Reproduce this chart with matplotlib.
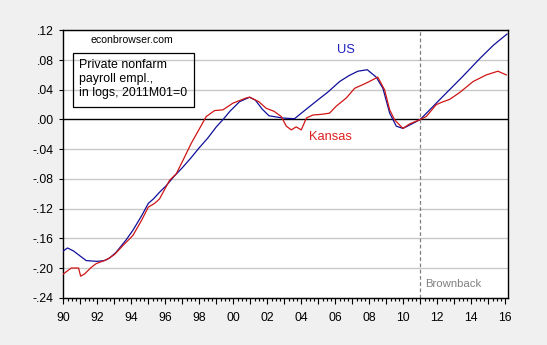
import numpy as np
import matplotlib
matplotlib.use("Agg")
import matplotlib.pyplot as plt
from matplotlib.patches import Rectangle
from matplotlib.ticker import FixedLocator, MultipleLocator

plt.rcParams['font.family'] = ['Liberation Sans', 'DejaVu Sans']

# private nonfarm payroll employment, logs, 2011M01 = 0
us_t = [1990.0, 1990.25, 1990.6, 1991.0, 1991.35, 1992.0, 1992.4, 1992.7, 1993.1,
        1993.7, 1994.1, 1994.6, 1995.0, 1995.3, 1995.66, 1996.06, 1996.5, 1997.0,
        1997.5, 1998.0, 1998.5, 1999.0, 1999.4, 1999.8, 2000.37, 2000.96, 2001.3,
        2001.7, 2002.1, 2002.9, 2003.6, 2004.3, 2004.9, 2005.57, 2006.25, 2006.8,
        2007.33, 2007.88, 2008.41, 2008.8, 2009.2, 2009.59, 2009.98, 2010.5, 2011.0,
        2012.24, 2013.5, 2014.5, 2015.3, 2016.1]
us = [-0.177, -0.173, -0.177, -0.184, -0.190, -0.191, -0.190, -0.187, -0.179,
      -0.162, -0.149, -0.130, -0.113, -0.107, -0.098, -0.089, -0.077, -0.065,
      -0.052, -0.038, -0.025, -0.010, 0.000, 0.011, 0.024, 0.030, 0.026,
      0.014, 0.005, 0.002, 0.001, 0.014, 0.025, 0.037, 0.051, 0.059,
      0.065, 0.067, 0.057, 0.042, 0.0085, -0.009, -0.012, -0.006, 0.0,
      0.029, 0.058, 0.082, 0.100, 0.115]

ks_t = [1990.0, 1990.47, 1990.9, 1991.02, 1991.25, 1991.65, 1991.94, 1992.53, 1993.0,
        1993.5, 1994.1, 1994.6, 1995.0, 1995.37, 1995.66, 1996.25, 1996.65, 1997.04,
        1997.53, 1998.02, 1998.41, 1998.9, 1999.39, 1999.98, 2000.76, 2000.96, 2001.5,
        2001.94, 2002.4, 2002.82, 2003.12, 2003.41, 2003.7, 2004.0, 2004.3, 2004.68,
        2005.2, 2005.66, 2006.06, 2006.65, 2007.14, 2007.82, 2008.5, 2008.9, 2009.2,
        2009.49, 2009.98, 2010.37, 2011.0, 2011.35, 2011.94, 2012.24, 2012.72, 2013.3,
        2014.1, 2014.88, 2015.57, 2016.06]
kansas = [-0.208, -0.200, -0.200, -0.211, -0.208, -0.199, -0.194, -0.189, -0.182,
          -0.170, -0.156, -0.136, -0.118, -0.113, -0.107, -0.082, -0.073, -0.055,
          -0.032, -0.012, 0.004, 0.012, 0.013, 0.022, 0.029, 0.030, 0.024,
          0.015, 0.011, 0.004, -0.009, -0.014, -0.010, -0.014, 0.002, 0.006,
          0.007, 0.0085, 0.018, 0.029, 0.042, 0.049, 0.057, 0.040, 0.013,
          -0.0005, -0.012, -0.006, 0.0, 0.004, 0.020, 0.023, 0.027, 0.036,
          0.051, 0.060, 0.065, 0.060]

y_ticks = [-0.24, -0.20, -0.16, -0.12, -0.08, -0.04, 0.00, 0.04, 0.08, 0.12]
y_labels = ['-.24', '-.20', '-.16', '-.12', '-.08', '-.04', '.00', '.04', '.08', '.12']
x_years = list(range(1990, 2017))
x_labels = [('%02d' % (y % 100)) if y % 2 == 0 else '' for y in x_years]
brownback = 2011.0

fig = plt.figure(figsize=(5.47, 3.45), dpi=100, facecolor='#f0f0f0')
ax = fig.add_axes([0.1157, 0.137, 0.813, 0.775])
ax.set_facecolor('white')

for yv in y_ticks:
    if yv != 0:
        ax.axhline(yv, color='#c8c8c8', lw=1.0, zorder=1)
ax.axhline(0, color='black', lw=1.0, zorder=2)
ax.axvline(brownback, color='#808080', lw=0.9, ls=(0, (3, 2)), zorder=2)

ax.plot(us_t, us, color='#10109a', lw=0.9, zorder=3)
ax.plot(ks_t, kansas, color='#d01515', lw=0.9, zorder=4)

ax.set_xlim(1990, 2016.16)
ax.set_ylim(-0.24, 0.12)
ax.set_yticks(y_ticks)
ax.set_yticklabels(y_labels, fontsize=8.8)
ax.xaxis.set_major_locator(FixedLocator(x_years))
ax.set_xticklabels(x_labels, fontsize=8.8)
ax.xaxis.set_minor_locator(MultipleLocator(0.25))
ax.tick_params(axis='x', which='major', length=4, width=0.8, pad=6)
ax.tick_params(axis='x', which='minor', length=2, width=0.8)
ax.tick_params(axis='y', length=3, width=0.8, pad=4)
for s in ax.spines.values():
    s.set_linewidth(1.0)
    s.set_color('black')

# legend-like note box
ax.add_patch(Rectangle((0.021, 0.713), 0.273, 0.202, transform=ax.transAxes,
                       fill=False, edgecolor='black', lw=0.9, zorder=5))
ax.text(0.0355, 0.893, 'Private nonfarm\npayroll empl.,\nin logs, 2011M01=0',
        transform=ax.transAxes, fontsize=8.9, va='top', ha='left',
        linespacing=1.25, zorder=6)
ax.text(0.0623, 0.9637, 'econbrowser.com', transform=ax.transAxes,
        fontsize=7.6, va='center', ha='left')

ax.text(0.635, 0.926, 'US', transform=ax.transAxes, fontsize=9.3,
        color='#2020c0', ha='center', va='center')
ax.text(0.5997, 0.602, 'Kansas', transform=ax.transAxes, fontsize=9.3,
        color='#e02020', ha='center', va='center')
ax.text(0.813, 0.051, 'Brownback', transform=ax.transAxes, fontsize=8.2,
        color='#808080', ha='left', va='center')

fig.savefig('out.png', dpi=100, facecolor=fig.get_facecolor())
